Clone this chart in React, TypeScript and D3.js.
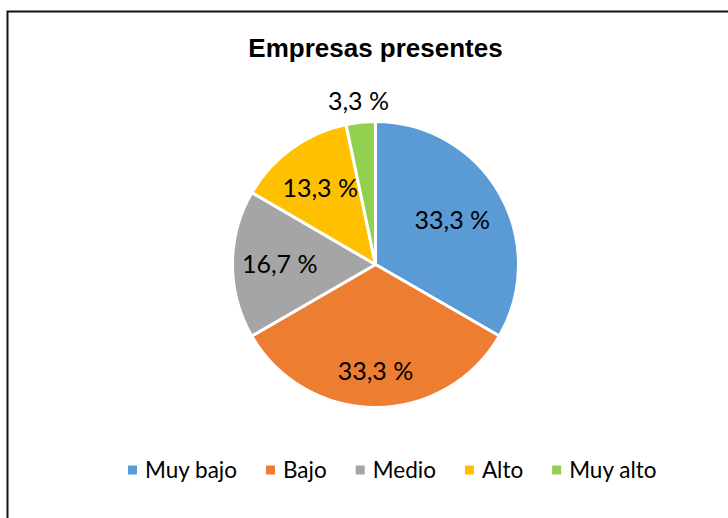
import React, { useEffect, useRef } from "react";
import * as d3 from "d3";

const categories = ["Muy bajo", "Bajo", "Medio", "Alto", "Muy alto"];
const values = [33.3, 33.3, 16.7, 13.3, 3.3];
const labels = ["33,3 %", "33,3 %", "16,7 %", "13,3 %", "3,3 %"];
const colors = ["#5B9BD5", "#ED7D31", "#A5A5A5", "#FFC000", "#92D050"];
const title = "Empresas presentes";

// layout (not data): radial position of each label as fraction of radius
const labelRadius = [0.62, 0.745, 0.67, 0.66, 1.15];

const W = 728;
const H = 518;
const CX = 375.5;
const CY = 264.5;
const R = 143;
const LABEL_FONT = "Lato, 'Open Sans', sans-serif";

export default function App() {
  const ref = useRef<SVGSVGElement | null>(null);
  useEffect(() => {
    const svg = d3.select(ref.current);
    svg.selectAll("*").remove();

    svg.append("rect").attr("x", 0).attr("y", 0).attr("width", W).attr("height", H).attr("fill", "#fff");
    svg.append("rect").attr("x", 7.5).attr("y", 11.5).attr("width", W).attr("height", H)
      .attr("fill", "#fff").attr("stroke", "#111").attr("stroke-width", 2);

    svg.append("text").attr("x", CX).attr("y", 57).attr("text-anchor", "middle")
      .attr("font-family", "'Liberation Sans', Arial, sans-serif").attr("font-weight", "bold")
      .attr("font-size", 26).attr("fill", "#000").text(title);

    const data = categories.map((c, i) => ({ c, v: values[i], label: labels[i], color: colors[i], lr: labelRadius[i] }));
    const pie = d3.pie<any>().value((d) => d.v).sort(null);
    const arcs = pie(data);
    const arc = d3.arc<any>().innerRadius(0).outerRadius(R);
    const g = svg.append("g").attr("transform", `translate(${CX},${CY})`);
    g.selectAll("path").data(arcs).enter().append("path")
      .attr("d", arc as any).attr("fill", (d: any) => d.data.color)
      .attr("stroke", "#fff").attr("stroke-width", 3).attr("stroke-linejoin", "round");

    g.selectAll("text.lab").data(arcs).enter().append("text")
      .attr("class", "lab")
      .attr("transform", (d: any) => {
        const a = (d.startAngle + d.endAngle) / 2;
        const r = R * d.data.lr;
        return `translate(${r * Math.sin(a)},${-r * Math.cos(a)})`;
      })
      .attr("text-anchor", "middle").attr("dy", "0.35em")
      .attr("font-family", LABEL_FONT).attr("font-size", 25).attr("fill", "#000")
      .text((d: any) => d.data.label);

    // legend
    const lg = svg.append("g");
    const ly = 470;
    let x = 128;
    data.forEach((d) => {
      lg.append("rect").attr("x", x).attr("y", ly - 4.5).attr("width", 9).attr("height", 9).attr("fill", d.color);
      const t = lg.append("text").attr("x", x + 17).attr("y", ly).attr("dy", "0.35em")
        .attr("font-family", LABEL_FONT).attr("font-size", 22.5).attr("fill", "#000").text(d.c);
      const w = (t.node() as SVGTextElement).getComputedTextLength();
      x += 17 + w + 29;
    });
  }, []);
  return (
    <svg ref={ref} width={W} height={H} style={{ position: "absolute", left: 0, top: 0, display: "block" }} />
  );
}
